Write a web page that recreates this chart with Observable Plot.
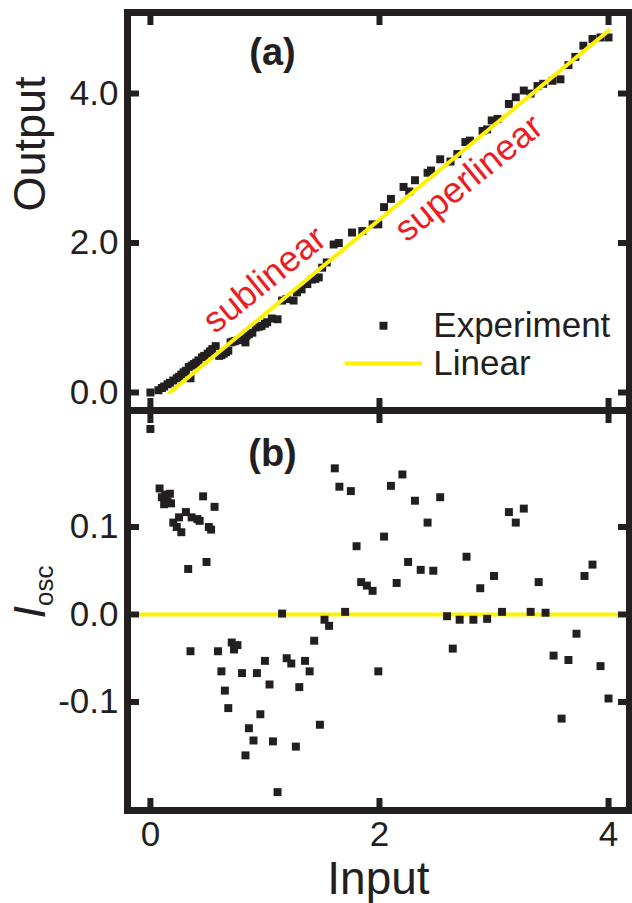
<!DOCTYPE html>
<html><head><meta charset="utf-8">
<script src="https://cdn.jsdelivr.net/npm/d3@7"></script>
<script src="https://cdn.jsdelivr.net/npm/@observablehq/plot@0.6"></script>
<style>
html,body{margin:0;padding:0;background:#fff;}
#chart{position:relative;width:632px;height:903px;overflow:hidden;font-family:"Liberation Sans",Arial,Helvetica,sans-serif;}
#chart svg{position:absolute;left:0;overflow:visible;background:transparent;}
</style></head><body><div id="chart"></div>
<script>
// ---- Panel (a): Output vs Input (experiment) ----
const inputA  = [0.00,0.07,0.10,0.12,0.15,0.17,0.20,0.23,0.25,0.27,0.29,0.31,0.335,0.35,0.36,0.38,0.40,0.42,0.45,0.47,0.50,0.52,0.54,0.57,0.60,0.62,0.64,0.66,0.68,0.70,0.72,0.74,0.77,0.79,0.83,0.84,0.86,0.89,0.92,0.95,0.97,1.00,1.02,1.06,1.11,1.15,1.19,1.25,1.28,1.32,1.37,1.41,1.44,1.47,1.50,1.54,1.60,1.645,1.76,1.85,1.94,1.99,2.04,2.10,2.21,2.26,2.31,2.42,2.45,2.53,2.62,2.68,2.75,2.79,2.90,2.94,2.98,3.03,3.13,3.19,3.26,3.32,3.38,3.43,3.51,3.58,3.65,3.71,3.78,3.86,3.93,4.00];
const outputA = [0.00,0.03,0.06,0.08,0.11,0.13,0.16,0.19,0.21,0.24,0.27,0.29,0.34,0.19,0.36,0.38,0.40,0.43,0.47,0.49,0.52,0.55,0.58,0.62,0.49,0.50,0.52,0.54,0.56,0.67,0.68,0.69,0.70,0.71,0.67,0.76,0.78,0.80,0.87,0.88,0.89,0.92,0.94,0.99,0.98,1.23,1.25,1.23,1.34,1.38,1.45,1.51,1.52,1.54,1.67,1.74,1.98,2.00,2.14,2.16,2.25,2.25,2.48,2.59,2.75,2.69,2.84,2.94,2.97,3.12,3.09,3.19,3.35,3.37,3.50,3.52,3.64,3.66,3.86,3.95,4.04,4.00,4.10,4.13,4.17,4.19,4.38,4.49,4.64,4.73,4.75,4.75];
// linear reference line
const linearInput  = [0.17, 4.00];
const linearOutput = [0.00, 4.84];

// ---- Panel (b): I_osc vs Input ----
const inputB = [0.00,0.08,0.10,0.12,0.13,0.15,0.17,0.18,0.20,0.23,0.25,0.27,0.31,0.33,0.35,0.36,0.41,0.43,0.46,0.49,0.51,0.53,0.56,0.59,0.62,0.65,0.68,0.71,0.73,0.76,0.80,0.83,0.86,0.90,0.93,0.96,1.00,1.04,1.07,1.11,1.15,1.19,1.23,1.27,1.30,1.35,1.39,1.43,1.48,1.52,1.56,1.61,1.65,1.70,1.75,1.80,1.84,1.89,1.94,1.99,2.04,2.10,2.15,2.20,2.25,2.31,2.36,2.42,2.47,2.53,2.59,2.64,2.70,2.76,2.82,2.88,2.94,3.00,3.07,3.13,3.19,3.26,3.32,3.39,3.45,3.52,3.59,3.65,3.72,3.79,3.86,3.93,4.00];
const oscB   = [0.212,0.144,0.134,0.126,0.137,0.129,0.138,0.127,0.105,0.100,0.111,0.094,0.117,0.052,-0.042,0.111,0.109,0.107,0.135,0.060,0.100,0.097,0.123,-0.042,-0.065,-0.087,-0.107,-0.032,-0.040,-0.035,-0.067,-0.161,-0.130,-0.144,-0.067,-0.114,-0.053,-0.080,-0.145,-0.203,0.001,-0.050,-0.056,-0.151,-0.083,-0.053,-0.065,-0.030,-0.126,-0.006,-0.013,0.167,0.146,0.003,0.141,0.078,0.037,0.033,0.027,-0.065,0.089,0.147,0.036,0.160,0.060,0.130,0.051,0.105,0.050,0.134,-0.002,-0.039,-0.006,0.066,-0.006,0.030,-0.005,0.044,0.003,0.117,0.105,0.121,0.003,0.037,0.002,-0.047,-0.119,-0.052,-0.022,0.044,0.057,-0.059,-0.096];
const zeroLine = [0];

// ---- Ticks ----
const xTickValues = [0, 2, 4];
const xTickLabels = ["0", "2", "4"];
const yTicksA = [0, 2, 4];
const yTickLabelsA = ["0.0", "2.0", "4.0"];
const yTicksB = [-0.1, 0, 0.1];
const yTickLabelsB = ["-0.1", "0.0", "0.1"];

const INK = "#231f20", YEL = "#fff200", RED = "#ed1c24";
const FONT = "Liberation Sans, Arial, Helvetica, sans-serif";

const dataA = inputA.map((x, i) => ({x, y: outputA[i]}));
const dataB = inputB.map((x, i) => ({x, y: oscB[i]}));
const lin = linearInput.map((x, i) => ({x, y: linearOutput[i]}));

const xDomain = [-0.2, 4.183];
const yDomainA = [-0.241, 5.084];
const yDomainB = [-0.224, 0.2331];
const R = 4.5;

function frameAndTicks(yt) {
  const t = 12, sw = 6;
  const c = {stroke: INK, strokeWidth: sw, tickSize: t, fill: "none", label: null};
  return [
    Plot.frame({stroke: INK, strokeWidth: 7}),
    Plot.axisX(xTickValues, {...c, anchor: "bottom", dy: -t}),
    Plot.axisX(xTickValues, {...c, anchor: "top", dy: t}),
    Plot.axisY(yt, {...c, anchor: "left", dx: t}),
    Plot.axisY(yt, {...c, anchor: "right", dx: -t})
  ];
}
const style = {fontFamily: FONT, background: "transparent", overflow: "visible", color: INK};

const plotA = Plot.plot({
  width: 632, height: 410, marginTop: 12, marginBottom: 0, marginLeft: 127, marginRight: 3,
  x: {domain: xDomain, label: null},
  y: {domain: yDomainA, label: null},
  style,
  marks: [
    Plot.dot(dataA, {x: "x", y: "y", symbol: "square", r: R, fill: INK, stroke: "none"}),
    Plot.line(lin, {x: "x", y: "y", stroke: YEL, strokeWidth: 4}),
    ...frameAndTicks(yTicksA),
    Plot.axisY(yTicksA, {anchor: "left", tickSize: 0, tickPadding: 9, fontSize: 35, fill: INK, label: null,
      tickFormat: d => yTickLabelsA[yTicksA.indexOf(d)]}),
    Plot.text(["(a)"], {x: 1.066, y: 4.55, fontSize: 38, fontWeight: "bold", fill: INK, lineAnchor: "middle"}),
    Plot.text(["sublinear"], {x: 0.996, y: 1.51, rotate: -39, fontSize: 36, fill: RED, lineAnchor: "middle"}),
    Plot.text(["superlinear"], {x: 2.78, y: 2.87, rotate: -39, fontSize: 36, fill: RED, lineAnchor: "middle"}),
    // legend
    Plot.dot([0], {x: 2.035, y: 0.893, symbol: "square", r: R, fill: INK, stroke: "none"}),
    Plot.ruleY([0.387], {x1: 1.70, x2: 2.376, stroke: YEL, strokeWidth: 4}),
    Plot.text(["Experiment"], {x: 2.47, y: 0.893, fontSize: 35, fill: INK, textAnchor: "start", lineAnchor: "middle"}),
    Plot.text(["Linear"], {x: 2.47, y: 0.387, fontSize: 35, fill: INK, textAnchor: "start", lineAnchor: "middle"}),
    Plot.text(["Output"], {frameAnchor: "left", dx: -97, rotate: -90, fontSize: 45, fill: INK, lineAnchor: "middle"})
  ]
});

const plotB = Plot.plot({
  width: 632, height: 493, marginTop: 0, marginBottom: 93, marginLeft: 127, marginRight: 3,
  x: {domain: xDomain, label: null},
  y: {domain: yDomainB, label: null},
  style,
  marks: [
    Plot.ruleY(zeroLine, {stroke: YEL, strokeWidth: 4}),
    Plot.dot(dataB, {x: "x", y: "y", symbol: "square", r: R, fill: INK, stroke: "none"}),
    ...frameAndTicks(yTicksB),
    Plot.axisY(yTicksB, {anchor: "left", tickSize: 0, tickPadding: 9, fontSize: 35, fill: INK, label: null,
      tickFormat: d => yTickLabelsB[yTicksB.indexOf(d)]}),
    Plot.axisX(xTickValues, {anchor: "bottom", tickSize: 0, tickPadding: 11, fontSize: 35, fill: INK, label: null,
      tickFormat: d => xTickLabels[xTickValues.indexOf(d)]}),
    Plot.text(["(b)"], {x: 1.066, y: 0.184, fontSize: 38, fontWeight: "bold", fill: INK, lineAnchor: "middle"}),
    Plot.text(["Input"], {frameAnchor: "bottom", dy: 69, fontSize: 46, fill: INK, lineAnchor: "middle"})
  ]
});

const root = document.getElementById("chart");
plotA.style.top = "0px";
plotB.style.top = "410px";
root.appendChild(plotA);
root.appendChild(plotB);

// I_osc axis title (italic I with subscript)
const svgB = d3.select(plotB.tagName.toLowerCase() === "svg" ? plotB : plotB.querySelector("svg"));
const lab = svgB.append("text")
  .attr("transform", "translate(45,182) rotate(-90)")
  .attr("text-anchor", "middle")
  .attr("fill", INK)
  .style("font-family", FONT);
lab.append("tspan").attr("font-size", 45).attr("font-style", "italic").text("I");
lab.append("tspan").attr("font-size", 26).attr("dy", 8).text("osc");
</script>
</body></html>
